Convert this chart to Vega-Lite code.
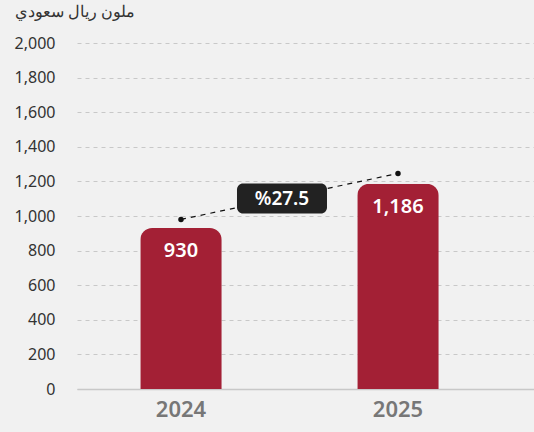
{
  "$schema": "https://vega.github.io/schema/vega-lite/v6.json",
  "width": 457,
  "height": 346,
  "autosize": {"type": "none"},
  "padding": {"left": 77, "top": 43, "right": 0, "bottom": 43},
  "background": "#f1f1f1",
  "config": {
    "view": {"stroke": null},
    "font": "Noto Sans"
  },
  "title": {
    "text": "ملون ريال سعودي",
    "anchor": "start",
    "frame": "group",
    "dx": -62,
    "offset": 15,
    "fontSize": 15.5,
    "fontWeight": "normal",
    "color": "#333333",
    "font": "Noto Sans"
  },
  "datasets": {
    "bars": [
      {"year": "2024", "value": 930, "label": "930"},
      {"year": "2025", "value": 1186, "label": "1,186"}
    ],
    "trend": [
      {"year": "2024", "value": 980},
      {"year": "2025", "value": 1246}
    ],
    "growth": [
      {"year": "2024", "value": 1101, "label": "%27.5"}
    ]
  },
  "encoding": {
    "x": {
      "field": "year",
      "type": "nominal",
      "scale": {"domain": ["2024", "2025"], "paddingInner": 0.6244, "paddingOuter": 0.3652, "align": 0.399},
      "axis": {
        "title": null,
        "labelAngle": 0,
        "labelFontSize": 22,
        "labelFontWeight": 600,
        "labelColor": "#777777",
        "labelPadding": 10,
        "ticks": false,
        "domainColor": "#c8c8c8",
        "domainWidth": 1.5
      }
    },
    "y": {
      "field": "value",
      "type": "quantitative",
      "scale": {"domain": [0, 2000]},
      "axis": {
        "title": null,
        "values": [0, 200, 400, 600, 800, 1000, 1200, 1400, 1600, 1800, 2000],
        "format": ",d",
        "labelFontSize": 16,
        "labelColor": "#333333",
        "labelPadding": 22,
        "ticks": false,
        "domain": false,
        "gridDash": [4, 4],
        "gridColor": "#c8c8c8",
        "gridWidth": 1
      }
    }
  },
  "layer": [
    {
      "data": {"name": "bars"},
      "mark": {"type": "bar", "color": "#a32035", "cornerRadiusTopLeft": 12, "cornerRadiusTopRight": 12}
    },
    {
      "data": {"name": "bars"},
      "mark": {"type": "text", "color": "white", "fontSize": 20, "fontWeight": 600, "baseline": "middle", "dy": 23},
      "encoding": {"text": {"field": "label"}}
    },
    {
      "data": {"name": "trend"},
      "mark": {"type": "line", "color": "#111111", "strokeWidth": 1.2, "strokeDash": [5, 5]},
      "encoding": {}
    },
    {
      "data": {"name": "trend"},
      "mark": {"type": "point", "filled": true, "color": "#111111", "size": 30, "opacity": 1}
    },
    {
      "data": {"name": "growth"},
      "mark": {
        "type": "point",
        "filled": true,
        "opacity": 1,
        "color": "#222222",
        "size": 900,
        "xOffset": 101,
        "shape": "M-2.6,-1 H2.6 A0.4,0.4 0 0 1 3,-0.6 V0.6 A0.4,0.4 0 0 1 2.6,1 H-2.6 A0.4,0.4 0 0 1 -3,0.6 V-0.6 A0.4,0.4 0 0 1 -2.6,-1 Z"
      }
    },
    {
      "data": {"name": "growth"},
      "mark": {"type": "text", "color": "white", "fontSize": 19, "fontWeight": 600, "baseline": "middle", "xOffset": 101},
      "encoding": {"text": {"field": "label"}}
    }
  ]
}
